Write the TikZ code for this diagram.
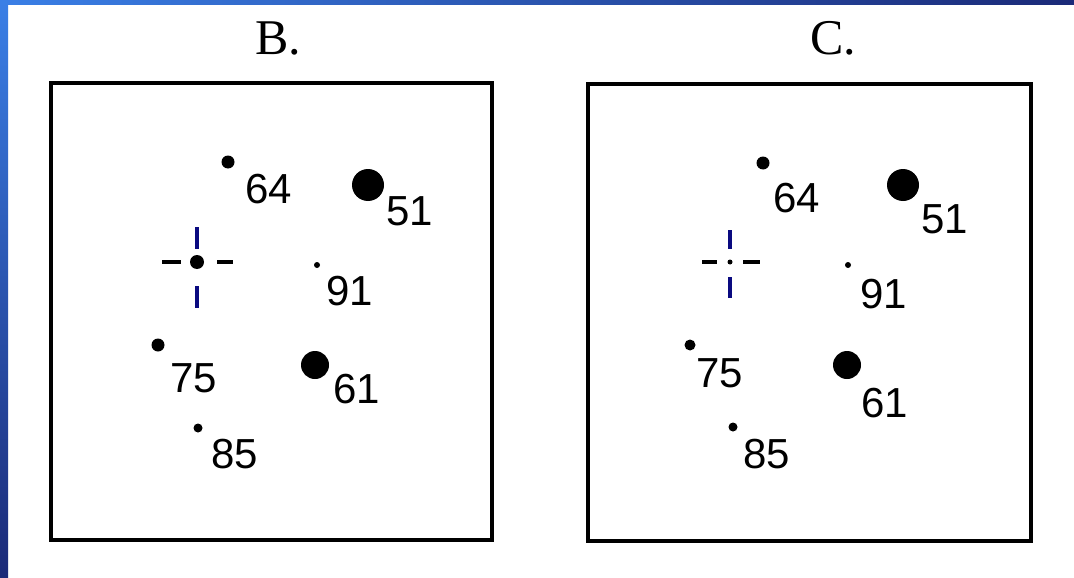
\documentclass[tikz,border=0pt]{standalone}
\usepackage{fontspec}
\setmainfont{Liberation Serif}
\newfontfamily\numfont{Liberation Sans}
\usetikzlibrary{positioning}
\definecolor{slideblue}{HTML}{3A7FE6}
\definecolor{slidenavy}{HTML}{1B2A78}
\definecolor{crossnavy}{HTML}{0A0A80}

\begin{document}
\begin{tikzpicture}[x=1pt,y=-1pt,
  frame/.style={draw,line width=4pt},
  spot/.style={circle,fill=black,inner sep=0pt,minimum size=#1},
  num/.style={anchor=base west,inner sep=0pt,font=\numfont\fontsize{42}{42}\selectfont},
  paneltitle/.style={anchor=base west,inner sep=0pt,font=\fontsize{50}{50}\selectfont},
  crossv/.style={draw=crossnavy,line width=4pt},
  crossh/.style={draw=black,line width=4pt}]
  \useasboundingbox (0,0) rectangle (1074,578);
  \fill[white] (0,0) rectangle (1074,578);
  % slide edges
  \shade[top color=slideblue,bottom color=slidenavy] (0,0) rectangle (8,578);
  \shade[left color=slideblue,right color=slidenavy] (0,0) rectangle (1074,5);

  % panel B
  \node[paneltitle] (btitle) at (255,55) {B.};
  \draw[frame] (51,83) rectangle (492,540);
  \node[spot=13pt] (b64) at (228,162) {};
  \node[num] (b64l) at (245,203) {64};
  \node[spot=32pt] (b51) at (368,185) {};
  \node[num] (b51l) at (386,225) {51};
  \node[spot=6pt] (b91) at (317,265) {};
  \node[num] (b91l) at (326,305) {91};
  \node[spot=13pt] (b75) at (158,345) {};
  \node[num] (b75l) at (170,392) {75};
  \node[spot=28pt] (b61) at (315,365) {};
  \node[num] (b61l) at (333,403) {61};
  \node[spot=9pt] (b85) at (198,428) {};
  \node[num] (b85l) at (211,468) {85};
  \node[spot=14pt] (bcross) at (197,262) {};
  \draw[crossv] ([yshift=35pt]bcross.center) -- ([yshift=13pt]bcross.center);
  \draw[crossv] ([yshift=-24pt]bcross.center) -- ([yshift=-46pt]bcross.center);
  \draw[crossh] ([xshift=-35pt]bcross.center) -- ([xshift=-16pt]bcross.center);
  \draw[crossh] ([xshift=20pt]bcross.center) -- ([xshift=36pt]bcross.center);

  % panel C
  \node[paneltitle] (ctitle) at (810,55) {C.};
  \draw[frame] (588,84) rectangle (1031,541);
  \node[spot=13pt] (c64) at (763,163) {};
  \node[num] (c64l) at (773,212) {64};
  \node[spot=32pt] (c51) at (903,185) {};
  \node[num] (c51l) at (921,233) {51};
  \node[spot=6pt] (c91) at (848,265) {};
  \node[num] (c91l) at (860,308) {91};
  \node[spot=11pt] (c75) at (690,345) {};
  \node[num] (c75l) at (696,387) {75};
  \node[spot=28pt] (c61) at (847,365) {};
  \node[num] (c61l) at (861,417) {61};
  \node[spot=9pt] (c85) at (733,427) {};
  \node[num] (c85l) at (743,468) {85};
  \node[spot=5pt] (ccross) at (730,262) {};
  \draw[crossv] ([yshift=32pt]ccross.center) -- ([yshift=13pt]ccross.center);
  \draw[crossv] ([yshift=-15pt]ccross.center) -- ([yshift=-36pt]ccross.center);
  \draw[crossh] ([xshift=-28pt]ccross.center) -- ([xshift=-13pt]ccross.center);
  \draw[crossh] ([xshift=13pt]ccross.center) -- ([xshift=30pt]ccross.center);
\end{tikzpicture}
\end{document}
